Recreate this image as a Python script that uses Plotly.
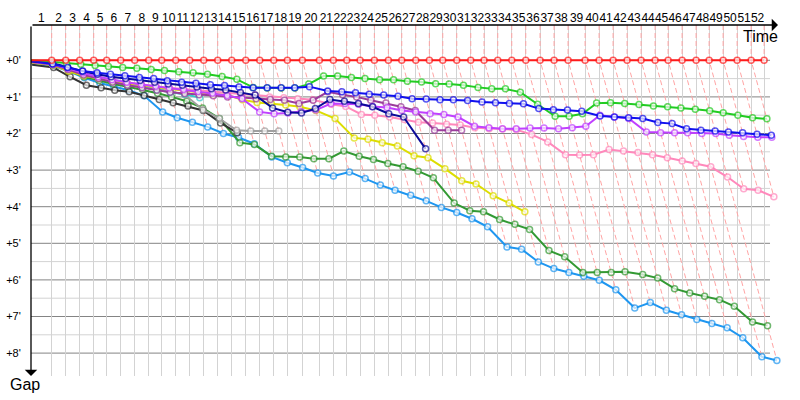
import plotly.graph_objects as go

# ---------------- data ----------------
# leader lap times in seconds (lap 1 .. 52)
leader_lap_s = [126.1, 85.3, 85.3, 85.3, 79.2, 85.3, 85.3, 85.3, 79.2, 85.3,
                85.3, 85.3, 85.3, 85.3, 85.3, 85.3, 85.3, 82.8, 91.4, 103.6,
                85.3, 81.6, 81.0, 87.1, 85.3, 81.6, 85.3, 82.8, 81.6, 85.3,
                85.3, 81.0, 83.5, 85.3, 85.3, 87.1, 85.3, 85.3, 103.6, 85.3,
                85.3, 85.3, 85.3, 85.3, 79.2, 85.3, 85.3, 79.2, 85.3, 85.3,
                85.3, 79.2]
lap_labels = [str(i) for i in range(1, 53)]
y_tick_vals = [0, 1, 2, 3, 4, 5, 6, 7, 8]
y_tick_text = ["+0'", "+1'", "+2'", "+3'", "+4'", "+5'", "+6'", "+7'", "+8'"]

# gaps to the leader in minutes at the end of each lap (first value = start)
gap_red = [0.0] + [0.0] * 52
gap_green = [0.0, 0.05, 0.08, 0.11, 0.14, 0.17, 0.20, 0.22, 0.25, 0.28, 0.31,
             0.34, 0.38, 0.44, 0.52, 0.74, 0.76, 0.76, 0.76, 0.65, 0.43,
             0.43, 0.47, 0.50, 0.53, 0.53, 0.57, 0.59, 0.64, 0.65, 0.68,
             0.74, 0.78, 0.78, 0.87, 1.20, 1.53, 1.53, 1.46, 1.17, 1.16,
             1.18, 1.21, 1.25, 1.27, 1.30, 1.34, 1.38, 1.43, 1.50, 1.57, 1.60]
gap_blue = [0.02, 0.10, 0.20, 0.29, 0.34, 0.38, 0.42, 0.47, 0.50, 0.56, 0.60,
            0.63, 0.67, 0.69, 0.73, 0.75, 0.75, 0.75, 0.75, 0.72, 0.84,
            0.86, 0.89, 0.93, 0.95, 0.98, 1.05, 1.06, 1.08, 1.08, 1.10,
            1.14, 1.16, 1.18, 1.19, 1.32, 1.35, 1.36, 1.39, 1.52, 1.55,
            1.57, 1.59, 1.70, 1.73, 1.87, 1.91, 1.93, 1.96, 1.98, 2.02, 2.05]
gap_navy = [0.03, 0.08, 0.18, 0.30, 0.38, 0.45, 0.50, 0.55, 0.60, 0.65, 0.68,
            0.73, 0.78, 0.81, 0.88, 0.95, 1.30, 1.42, 1.44, 1.32, 1.07,
            1.12, 1.18, 1.27, 1.46, 1.55, 2.42]
gap_violet = [0.04, 0.10, 0.22, 0.35, 0.45, 0.53, 0.60, 0.66, 0.71, 0.76, 0.80,
              0.85, 0.90, 0.96, 1.05, 1.41, 1.46, 1.44, 1.40, 1.36, 1.18,
              1.18, 1.20, 1.26, 1.29, 1.37, 1.41, 1.46, 1.48, 1.55, 1.80,
              1.84, 1.87, 1.87, 1.85, 1.85, 1.87, 1.84, 1.80, 1.50, 1.55,
              1.59, 1.96, 1.98, 1.98, 1.98, 2.00, 2.00, 2.05, 2.08, 2.10, 2.10]
gap_purple = [0.05, 0.12, 0.25, 0.40, 0.50, 0.60, 0.68, 0.75, 0.82, 0.87, 0.91,
              0.94, 0.97, 1.00, 1.02, 1.05, 1.07, 1.09, 1.18, 1.09, 0.86,
              0.94, 1.00, 1.09, 1.17, 1.27, 1.37, 1.91, 1.91, 1.91]
gap_pink = [0.05, 0.11, 0.24, 0.37, 0.46, 0.54, 0.60, 0.66, 0.71, 0.75, 0.79,
            0.83, 0.86, 0.89, 0.92, 0.95, 1.00, 1.02, 1.05, 1.08, 1.20,
            1.26, 1.48, 1.50, 1.55, 1.62, 1.69, 1.71, 1.75, 1.77, 1.84,
            1.87, 1.88, 1.90, 2.03, 2.23, 2.58, 2.59, 2.58, 2.44, 2.48,
            2.52, 2.58, 2.66, 2.75, 2.82, 2.91, 3.19, 3.51, 3.55, 3.73]
gap_yellow = [0.06, 0.13, 0.30, 0.42, 0.50, 0.57, 0.63, 0.69, 0.74, 0.79, 0.84,
              0.88, 0.92, 0.95, 1.08, 1.15, 1.18, 1.22, 1.27, 1.37, 1.59,
              2.12, 2.16, 2.25, 2.34, 2.61, 2.66, 2.96, 3.29, 3.38, 3.70,
              3.90, 4.14]
gap_cyan = [0.05, 0.12, 0.23, 0.40, 0.50, 0.58, 0.65, 0.72, 0.80, 0.87, 0.93,
            1.02]
gap_grey = [0.07, 0.13, 0.27, 0.40, 0.50, 0.58, 0.65, 0.72, 0.78, 0.84, 0.95,
            1.35, 1.59, 1.91, 1.93, 1.93, 1.93]
gap_black = [0.12, 0.20, 0.45, 0.68, 0.75, 0.82, 0.86, 0.96, 1.07, 1.16, 1.25,
             1.37, 1.71, 1.98]
gap_darkgreen = [0.08, 0.12, 0.28, 0.45, 0.55, 0.65, 0.72, 0.80, 0.90, 1.00, 1.12,
                 1.30, 1.59, 2.25, 2.30, 2.62, 2.64, 2.64, 2.69, 2.69, 2.48,
                 2.62, 2.71, 2.82, 2.91, 3.03, 3.21, 3.90, 4.11, 4.14, 4.35,
                 4.48, 4.62, 5.20, 5.37, 5.80, 5.80, 5.80, 5.78, 5.85, 5.95,
                 6.24, 6.36, 6.45, 6.54, 6.72, 7.15, 7.25]
gap_lightblue = [0.10, 0.15, 0.30, 0.48, 0.62, 0.72, 0.82, 0.97, 1.41, 1.57, 1.69,
                 1.82, 2.00, 2.11, 2.28, 2.64, 2.80, 2.93, 3.08, 3.16, 3.05,
                 3.23, 3.41, 3.55, 3.69, 3.84, 4.02, 4.16, 4.33, 4.55, 5.10,
                 5.16, 5.51, 5.69, 5.80, 5.90, 6.01, 6.27, 6.77, 6.62, 6.83,
                 6.95, 7.08, 7.19, 7.31, 7.58, 8.10, 8.20]

# ---------------- styles ----------------
series = [
    (gap_lightblue, "#1e96f0"),
    (gap_darkgreen, "#339933"),
    (gap_black, "#333333"),
    (gap_grey, "#a0a0a0"),
    (gap_cyan, "#33cccc"),
    (gap_yellow, "#dddd00"),
    (gap_pink, "#ff88bb"),
    (gap_purple, "#9b3c9b"),
    (gap_violet, "#c040ff"),
    (gap_navy, "#0a0a99"),
    (gap_green, "#22cc22"),
    (gap_blue, "#1010ee"),
    (gap_red, "#ff1a1a"),
]

W, H = 800, 400
ML, MR, MT, MB = 31, 0, 25, 24
PX_X = 9.85   # px per minute along time axis
PX_Y = 36.6   # px per minute of gap
ZERO_Y_PX = 60.3
plot_w = W - ML - MR
plot_h = H - MT - MB
x_max = plot_w / PX_X
y_top = -(ZERO_Y_PX - MT) / PX_Y
y_bot = y_top + plot_h / PX_Y

# leader cumulative times (minutes)
t = [0.0]
for s in leader_lap_s:
    t.append(t[-1] + s / 60.0)
mids = [(t[i] + t[i + 1]) / 2 for i in range(52)]

fig = go.Figure()

# dashed iso-lap lines
dx, dy = [], []
for k in range(1, 53):
    gm = max(g[k] for g, _ in series if len(g) > k)
    dx += [t[k], t[k], t[k] + gm, None]
    dy += [y_top, 0, gm, None]
fig.add_trace(go.Scatter(x=dx, y=dy, mode="lines",
                         line=dict(color="#ffa4a4", width=1, dash="5px,3px"),
                         hoverinfo="skip", showlegend=False))

for g, col in series:
    xs = [t[k] + g[k] for k in range(len(g))]
    sizes = [0] + [6] * (len(g) - 1)
    lw = [0] + [1.5] * (len(g) - 1)
    fig.add_trace(go.Scatter(
        x=xs, y=g, mode="lines+markers",
        line=dict(color=col, width=2),
        marker=dict(size=sizes, color="white", line=dict(color=col, width=lw)),
        cliponaxis=False,
        hoverinfo="skip", showlegend=False))

# invisible trace to carry the top lap axis
fig.add_trace(go.Scatter(x=[0], y=[0], xaxis="x2", mode="markers",
                         marker=dict(opacity=0), hoverinfo="skip", showlegend=False))

x_grid_end = t[-1] + 0.6
shapes = []
for v in [i * 0.5 for i in range(1, 16, 2)]:
    shapes.append(dict(type="line", xref="x", yref="y", x0=0, x1=x_grid_end, y0=v, y1=v,
                       line=dict(color="#d3d3d3", width=1), layer="below"))
for v in y_tick_vals:
    shapes.append(dict(type="line", xref="x", yref="y", x0=0, x1=x_grid_end, y0=v, y1=v,
                       line=dict(color="#848484", width=1), layer="below"))

font = "Liberation Sans"
annotations = [
    dict(xref="paper", yref="paper", x=(778 - ML) / plot_w, y=1, ax=-(778 - ML), ay=0,
         axref="pixel", ayref="pixel", text="", showarrow=True, arrowhead=1,
         arrowsize=1.6, arrowwidth=1.3, arrowcolor="black"),
    dict(xref="paper", yref="paper", x=0, y=0, ax=0, ay=-plot_h,
         text="", showarrow=True, arrowhead=1, arrowsize=1.6, arrowwidth=1.3,
         arrowcolor="black"),
    dict(xref="paper", yref="paper", x=(760 - ML) / plot_w, y=1 - (36 - MT) / plot_h,
         text="Time", showarrow=False, font=dict(family=font, size=16, color="black"),
         xanchor="center", yanchor="middle"),
    dict(xref="paper", yref="paper", x=(25 - ML) / plot_w, y=-(385 - (H - MB)) / plot_h,
         text="Gap", showarrow=False, font=dict(family=font, size=16, color="black"),
         xanchor="center", yanchor="middle"),
]

fig.update_layout(
    width=W, height=H,
    margin=dict(l=ML, r=MR, t=MT, b=MB, pad=0, autoexpand=False),
    paper_bgcolor="white", plot_bgcolor="white",
    hovermode=False,
    xaxis=dict(range=[0, x_max], tickmode="array", tickvals=t[1:], showticklabels=False,
               showgrid=True, gridcolor="#d3d3d3", gridwidth=1, zeroline=False,
               showline=False, ticks="", automargin=False),
    xaxis2=dict(range=[0, x_max], overlaying="x", side="top", anchor="y",
                tickmode="array", tickvals=mids, ticktext=lap_labels, tickangle=0,
                showgrid=False, zeroline=False, showline=False, ticks="",
                automargin=False,
                tickfont=dict(family=font, size=12, color="black")),
    yaxis=dict(range=[y_bot, y_top], tickmode="array", tickvals=y_tick_vals,
               ticktext=y_tick_text, showgrid=False, zeroline=False, showline=False,
               ticks="outside", ticklen=7, tickcolor="rgba(0,0,0,0)", automargin=False,
               tickfont=dict(family=font, size=11, color="black")),
    shapes=shapes,
    annotations=annotations,
)

fig.write_html("out.html", config={"displayModeBar": False},
               post_script="document.body.style.margin='0px';")
